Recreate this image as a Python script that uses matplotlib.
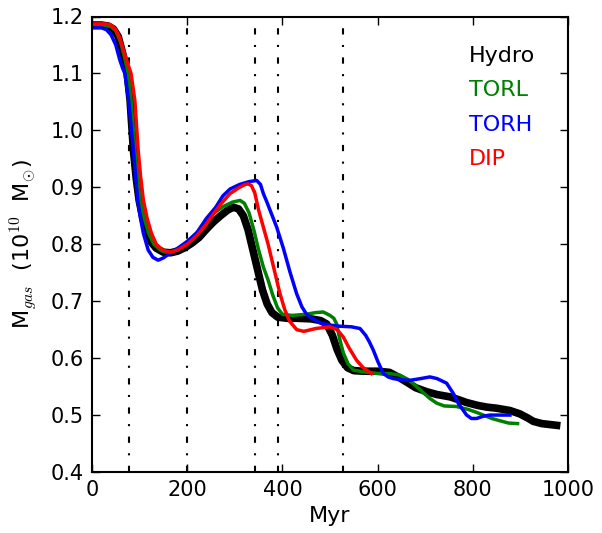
import matplotlib
matplotlib.use("Agg")
import matplotlib.pyplot as plt

# ---- data ----
hydro_t = [0, 20, 35, 45, 55, 63, 69, 74, 80, 87, 93, 99, 107, 116, 125, 135, 150, 165, 180, 195,
           210, 225, 240, 255, 270, 285, 297, 308, 318, 328, 338, 348, 358, 368, 378, 390, 410, 430,
           460, 480, 493, 505, 515, 525, 537, 550, 570, 600, 625, 645, 661, 680, 703, 725, 752, 770,
           787, 810, 829, 850, 878, 899, 915, 927, 945, 976]
hydro_m = [1.185, 1.185, 1.183, 1.178, 1.165, 1.14, 1.12, 1.10, 1.053, 0.965, 0.915, 0.877, 0.845,
           0.819, 0.803, 0.793, 0.786, 0.785, 0.788, 0.794, 0.802, 0.812, 0.826, 0.839, 0.85, 0.86,
           0.865, 0.862, 0.85, 0.825, 0.79, 0.755, 0.72, 0.695, 0.68, 0.672, 0.670, 0.670, 0.669,
           0.666, 0.66, 0.64, 0.615, 0.596, 0.583, 0.578, 0.577, 0.577, 0.575, 0.566, 0.558, 0.548,
           0.541, 0.536, 0.532, 0.527, 0.522, 0.517, 0.514, 0.512, 0.508, 0.502, 0.495, 0.489, 0.485,
           0.482]

torl_t = [0, 25, 40, 50, 60, 68, 76, 82, 90, 101, 110, 119, 130, 145, 160, 180, 195, 210, 230,
          255, 275, 295, 311, 320, 330, 340, 350, 360, 370, 380, 390, 400, 420, 450, 470, 486, 500,
          508, 514, 520, 528, 538, 549, 570, 600, 625, 647, 665, 682, 695, 710, 724, 740, 766, 790,
          810, 822, 840, 857, 875, 894]
torl_m = [1.185, 1.185, 1.182, 1.175, 1.155, 1.13, 1.10, 1.053, 0.965, 0.877, 0.845, 0.819, 0.80,
          0.789, 0.785, 0.79, 0.80, 0.812, 0.828, 0.854, 0.866, 0.874, 0.877, 0.872, 0.855, 0.825, 0.79,
          0.76, 0.737, 0.71, 0.688, 0.677, 0.675, 0.677, 0.68, 0.681, 0.675, 0.67, 0.66, 0.635, 0.609,
          0.59, 0.579, 0.576, 0.573, 0.573, 0.57, 0.562, 0.55, 0.54, 0.529, 0.521, 0.516, 0.515, 0.51,
          0.504, 0.5, 0.494, 0.49, 0.486, 0.485]

torh_t = [0, 20, 30, 40, 50, 58, 64, 69, 77, 87, 96, 102, 108, 118, 128, 139, 150, 165, 180, 200,
          220, 240, 260, 275, 290, 310, 330, 346, 354, 360, 367, 374, 388, 402, 416, 430, 441, 450,
          458, 479, 500, 521, 545, 563, 575, 583, 591, 600, 612, 622, 633, 650, 668, 690, 710, 725,
          745, 759, 770, 787, 797, 808, 822, 836, 855, 878]
torh_m = [1.18, 1.18, 1.177, 1.168, 1.15, 1.125, 1.11, 1.10, 1.053, 0.965, 0.877, 0.845, 0.819,
          0.79, 0.777, 0.772, 0.776, 0.785, 0.793, 0.805, 0.82, 0.845, 0.865, 0.885, 0.897, 0.905,
          0.91, 0.912, 0.905, 0.889, 0.875, 0.86, 0.83, 0.793, 0.751, 0.713, 0.69, 0.678, 0.672, 0.662,
          0.658, 0.656, 0.655, 0.652, 0.64, 0.628, 0.614, 0.595, 0.573, 0.567, 0.564, 0.562, 0.561,
          0.564, 0.567, 0.564, 0.556, 0.538, 0.52, 0.5, 0.494, 0.494, 0.498, 0.5, 0.5, 0.5]

dip_t = [0, 25, 38, 50, 58, 65, 74, 82, 90, 97, 102, 108, 116, 125, 135, 148, 164, 180, 200, 220,
         240, 255, 270, 290, 310, 322, 328, 335, 342, 350, 360, 370, 380, 388, 395, 405, 415, 430,
         445, 470, 500, 515, 528, 540, 556, 570, 587]
dip_m = [1.187, 1.187, 1.186, 1.177, 1.163, 1.144, 1.12, 1.10, 1.053, 0.965, 0.92, 0.877, 0.845,
         0.819, 0.80, 0.79, 0.786, 0.79, 0.80, 0.815, 0.835, 0.853, 0.87, 0.889, 0.90, 0.905, 0.906,
         0.903, 0.89, 0.86, 0.83, 0.80, 0.765, 0.737, 0.713, 0.685, 0.665, 0.65, 0.647, 0.652, 0.655,
         0.65, 0.637, 0.618, 0.596, 0.583, 0.573]

event_times = [77, 200, 342, 391, 528]
labels = ["Hydro", "TORL", "TORH", "DIP"]
colors = ["black", "green", "blue", "red"]
xticks = [0, 200, 400, 600, 800, 1000]
yticks = [0.4, 0.5, 0.6, 0.7, 0.8, 0.9, 1.0, 1.1, 1.2]

plt.rcParams["font.family"] = ["DejaVu Sans"]
plt.rcParams["mathtext.fontset"] = "cm"

fig = plt.figure(figsize=(6.02, 5.33), dpi=100)
ax = fig.add_axes([92 / 602, 1 - 472 / 533, 476 / 602, 455.5 / 533])

for t in event_times:
    ax.axvline(t, color="black", lw=1.5, linestyle=(0, (3, 5, 1, 5)), zorder=1)

series = [(hydro_t, hydro_m, 5.5), (torl_t, torl_m, 2.5), (torh_t, torh_m, 2.5), (dip_t, dip_m, 2.5)]
handles = []
for (t, m, lw), lab, c in zip(series, labels, colors):
    h, = ax.plot(t, m, color=c, lw=lw, label=lab, zorder=2, solid_joinstyle="round")
    handles.append(h)

ax.set_xlim(0, 1000)
ax.set_ylim(0.4, 1.2)
ax.set_xticks(xticks)
ax.set_yticks(yticks)
ax.set_yticklabels([f"{v:.1f}" for v in yticks])
ax.tick_params(direction="in", length=6, width=1, top=True, right=True, labelsize=15, pad=6)
for s in ax.spines.values():
    s.set_linewidth(1.5)

ax.set_xlabel("Myr", fontsize=16, labelpad=4)
ax.set_ylabel(r"M$_{gas}$  (10$^{10}$  M$_{\odot}$)", fontsize=16, labelpad=8)

leg = ax.legend(handles=handles, loc="upper left", bbox_to_anchor=(0.791, 0.935),
                frameon=False, handlelength=0, handletextpad=0, borderpad=0, borderaxespad=0,
                labelspacing=0.64, fontsize=16)
for txt, c in zip(leg.get_texts(), colors):
    txt.set_color(c)
for lh in leg.legend_handles:
    lh.set_visible(False)

fig.savefig("out.png", dpi=100)
